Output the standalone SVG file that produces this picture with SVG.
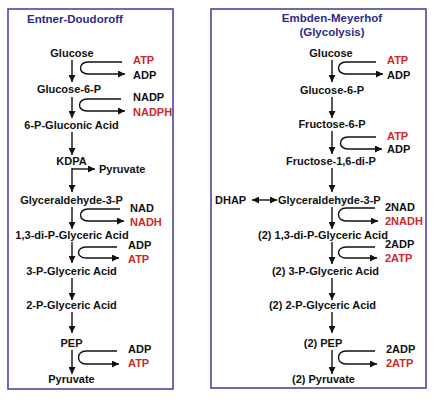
<svg xmlns="http://www.w3.org/2000/svg" width="441" height="402" viewBox="0 0 441 402">
<style>
text{font-family:"Liberation Sans",Arial,sans-serif;font-weight:bold;font-size:11px;fill:#111}
.c{text-anchor:middle}
.r{fill:#cc2828}
.t{fill:#2b2b8c;font-size:11.5px}
.box{fill:#fff;stroke:#4646a6;stroke-width:1.6}
.ln{fill:none;stroke:#111;stroke-width:1.4}
</style>
<defs>
<marker id="ah" viewBox="0 0 10 10" refX="10" refY="5" markerWidth="7" markerHeight="7" markerUnits="userSpaceOnUse" orient="auto-start-reverse"><path d="M0,0 L10,5 L0,10 z" fill="#111"/></marker>
</defs>
<rect width="441" height="402" fill="#fff"/>
<rect class="box" x="8" y="9" width="165" height="380"/>
<rect class="box" x="211" y="9" width="215" height="379"/>

<g id="titles">
<text class="t" x="27" y="23">Entner-Doudoroff</text>
<text class="t c" x="332" y="22">Embden-Meyerhof</text>
<text class="t c" x="332" y="36">(Glycolysis)</text>
</g>

<g id="connectors">
<path class="ln" d="M72,60 V82" marker-end="url(#ah)"/>
<path class="ln" d="M72,97 V118" marker-end="url(#ah)"/>
<path class="ln" d="M72,132 V155" marker-end="url(#ah)"/>
<path class="ln" d="M72,168 V192" marker-end="url(#ah)"/>
<path class="ln" d="M72,169 H95" marker-end="url(#ah)"/>
<path class="ln" d="M72,207 V229" marker-end="url(#ah)"/>
<path class="ln" d="M72,242 V263" marker-end="url(#ah)"/>
<path class="ln" d="M72,278 V300" marker-end="url(#ah)"/>
<path class="ln" d="M72,312 V333" marker-end="url(#ah)"/>
<path class="ln" d="M72,350 V374" marker-end="url(#ah)"/>
<path class="ln" d="M122,62 H88 C78,62 78,74 88,74 H125" marker-end="url(#ah)"/>
<path class="ln" d="M121,99 H87 C77,99 77,111 87,111 H125" marker-end="url(#ah)"/>
<path class="ln" d="M120,209 H88 C78,209 78,221 88,221 H124" marker-end="url(#ah)"/>
<path class="ln" d="M117,247 H86 C76,247 76,258 86,258 H119" marker-end="url(#ah)"/>
<path class="ln" d="M117,351 H86 C76,351 76,364 86,364 H119" marker-end="url(#ah)"/>
<path class="ln" d="M332,60 V82" marker-end="url(#ah)"/>
<path class="ln" d="M332,97 V118" marker-end="url(#ah)"/>
<path class="ln" d="M332,131 V154" marker-end="url(#ah)"/>
<path class="ln" d="M332,168 V192" marker-end="url(#ah)"/>
<path class="ln" d="M332,207 V229" marker-end="url(#ah)"/>
<path class="ln" d="M332,242 V264" marker-end="url(#ah)"/>
<path class="ln" d="M332,278 V300" marker-end="url(#ah)"/>
<path class="ln" d="M332,312 V333" marker-end="url(#ah)"/>
<path class="ln" d="M332,350 V374" marker-end="url(#ah)"/>
<path class="ln" d="M252,200 H277" marker-start="url(#ah)" marker-end="url(#ah)"/>
<path class="ln" d="M376,62 H346 C336,62 336,74 346,74 H383" marker-end="url(#ah)"/>
<path class="ln" d="M376,137 H348 C338,137 338,149 348,149 H382" marker-end="url(#ah)"/>
<path class="ln" d="M375,208 H346 C336,208 336,221 346,221 H378" marker-end="url(#ah)"/>
<path class="ln" d="M375,247 H346 C336,247 336,258 346,258 H377" marker-end="url(#ah)"/>
<path class="ln" d="M375,351 H346 C336,351 336,364 346,364 H377" marker-end="url(#ah)"/>
</g>

<g id="ed-glucose"><text class="c" x="72" y="57">Glucose</text></g>
<g id="ed-atp1"><text class="r" x="133" y="64">ATP</text><text x="133" y="79">ADP</text></g>
<g id="ed-g6p"><text class="c" x="69" y="93">Glucose-6-P</text></g>
<g id="ed-nadp"><text x="133" y="101">NADP</text><text class="r" x="133" y="116">NADPH</text></g>
<g id="ed-6pg"><text class="c" x="71.5" y="129">6-P-Gluconic Acid</text></g>
<g id="ed-kdpa"><text class="c" x="71.5" y="165">KDPA</text></g>
<g id="ed-pyr1"><text x="99" y="173">Pyruvate</text></g>
<g id="ed-g3p"><text class="c" x="71.5" y="204">Glyceraldehyde-3-P</text></g>
<g id="ed-nad"><text x="130" y="212">NAD</text><text class="r" x="130" y="226">NADH</text></g>
<g id="ed-13bpg"><text class="c" x="72" y="239">1,3-di-P-Glyceric Acid</text></g>
<g id="ed-adp1"><text x="128" y="249">ADP</text><text class="r" x="128" y="263">ATP</text></g>
<g id="ed-3pg"><text class="c" x="71.5" y="275">3-P-Glyceric Acid</text></g>
<g id="ed-2pg"><text class="c" x="71.5" y="309">2-P-Glyceric Acid</text></g>
<g id="ed-pep"><text class="c" x="71.5" y="347">PEP</text></g>
<g id="ed-adp2"><text x="128" y="353">ADP</text><text class="r" x="128" y="367">ATP</text></g>
<g id="ed-pyr"><text class="c" x="71.5" y="383">Pyruvate</text></g>

<g id="em-glucose"><text class="c" x="331" y="57">Glucose</text></g>
<g id="em-atp1"><text class="r" x="387" y="64">ATP</text><text x="387" y="79">ADP</text></g>
<g id="em-g6p"><text class="c" x="332" y="94">Glucose-6-P</text></g>
<g id="em-f6p"><text class="c" x="332" y="128">Fructose-6-P</text></g>
<g id="em-atp2"><text class="r" x="387" y="140">ATP</text><text x="387" y="153">ADP</text></g>
<g id="em-fbp"><text class="c" x="331" y="165">Fructose-1,6-di-P</text></g>
<g id="em-dhap"><text x="215" y="204">DHAP</text></g>
<g id="em-g3p"><text x="278" y="204">Glyceraldehyde-3-P</text></g>
<g id="em-nad"><text x="385" y="211">2NAD</text><text class="r" x="385" y="225">2NADH</text></g>
<g id="em-13bpg"><text class="c" x="323" y="239">(2) 1,3-di-P-Glyceric Acid</text></g>
<g id="em-adp1"><text x="385" y="248">2ADP</text><text class="r" x="385" y="262">2ATP</text></g>
<g id="em-3pg"><text class="c" x="325.5" y="275">(2) 3-P-Glyceric Acid</text></g>
<g id="em-2pg"><text class="c" x="322.5" y="309">(2) 2-P-Glyceric Acid</text></g>
<g id="em-pep"><text class="c" x="323" y="347">(2) PEP</text></g>
<g id="em-adp2"><text x="386" y="353">2ADP</text><text class="r" x="386" y="367">2ATP</text></g>
<g id="em-pyr"><text class="c" x="323.5" y="383">(2) Pyruvate</text></g>
</svg>
